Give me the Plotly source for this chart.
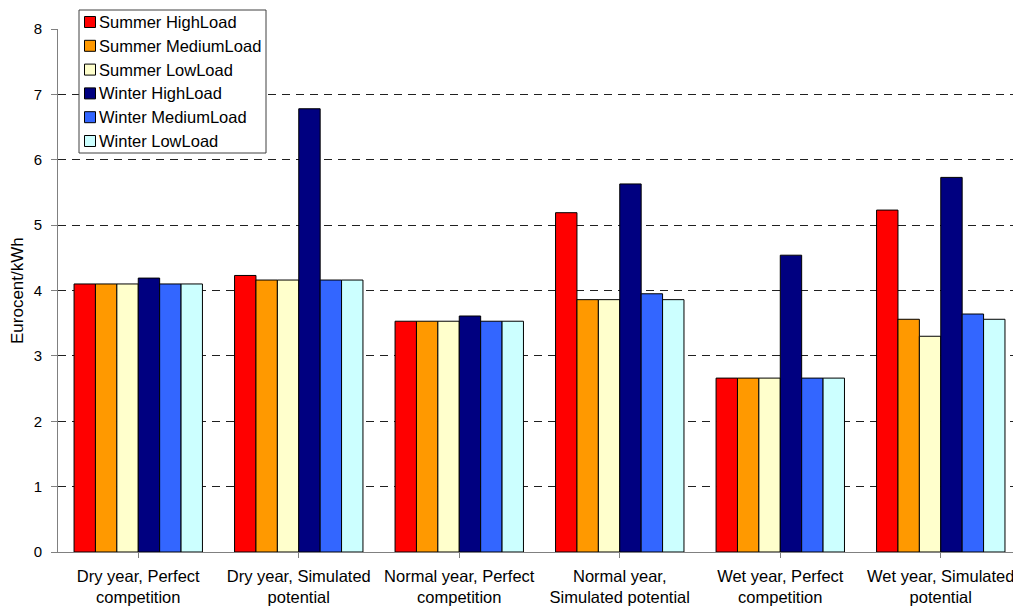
import plotly.graph_objects as go

categories = [
    "Dry year, Perfect<br>competition",
    "Dry year, Simulated<br>potential",
    "Normal year, Perfect<br>competition",
    "Normal year,<br>Simulated potential",
    "Wet year, Perfect<br>competition",
    "Wet year, Simulated<br>potential",
]

summer_high = [4.10, 4.23, 3.53, 5.19, 2.66, 5.23]
summer_medium = [4.10, 4.16, 3.53, 3.86, 2.66, 3.56]
summer_low = [4.10, 4.16, 3.53, 3.86, 2.66, 3.30]
winter_high = [4.19, 6.78, 3.61, 5.63, 4.54, 5.73]
winter_medium = [4.10, 4.16, 3.53, 3.95, 2.66, 3.64]
winter_low = [4.10, 4.16, 3.53, 3.86, 2.66, 3.56]

series_names = ["Summer HighLoad", "Summer MediumLoad", "Summer LowLoad",
                "Winter HighLoad", "Winter MediumLoad", "Winter LowLoad"]
series_values = [summer_high, summer_medium, summer_low,
                 winter_high, winter_medium, winter_low]
series_colors = ["#FF0000", "#FF9900", "#FFFFCC", "#000080", "#3366FF", "#CCFFFF"]

W, H = 1013, 608
ML, MR, MT, MB = 58, 0, 29, 56
PW, PH = W - ML - MR, H - MT - MB
FONT = "Liberation Sans, Arial, sans-serif"


def px_x(p):
    return (p - ML) / PW


def px_y(p):
    return (H - MB - p) / PH


fig = go.Figure()
for name, vals, color in zip(series_names, series_values, series_colors):
    fig.add_trace(go.Bar(
        name=name,
        x=list(range(len(categories))),
        y=vals,
        marker=dict(color=color, line=dict(color="#000000", width=1)),
        showlegend=False,
    ))

# boxed legend in the upper-left corner
shapes = [dict(type="rect", xref="paper", yref="paper",
               x0=px_x(79), x1=px_x(266), y0=px_y(153), y1=px_y(10),
               line=dict(color="#404040", width=1), fillcolor="white", layer="above")]
annotations = []
for i, (name, color) in enumerate(zip(series_names, series_colors)):
    cy = 22 + i * 23.8
    shapes.append(dict(type="rect", xref="paper", yref="paper",
                       x0=px_x(84.5), x1=px_x(95.5), y0=px_y(cy + 5.5), y1=px_y(cy - 5.5),
                       line=dict(color="#000000", width=1), fillcolor=color, layer="above"))
    annotations.append(dict(xref="paper", yref="paper", x=px_x(97), y=px_y(cy),
                            xanchor="left", yanchor="middle", text=name, showarrow=False,
                            font=dict(family=FONT, size=16.5, color="#000000")))

# vertical axis title
annotations.append(dict(xref="paper", yref="paper", x=px_x(17.5), y=px_y(290.5),
                        xanchor="center", yanchor="middle", text="Eurocent/kWh",
                        textangle=-90, showarrow=False,
                        font=dict(family=FONT, size=17, color="#000000")))

fig.update_layout(
    width=W,
    height=H,
    margin=dict(l=ML, r=MR, t=MT, b=MB),
    paper_bgcolor="white",
    plot_bgcolor="white",
    barmode="group",
    bargap=0.2,
    bargroupgap=0,
    font=dict(family=FONT, size=16, color="#000000"),
    showlegend=False,
    shapes=shapes,
    annotations=annotations,
    xaxis=dict(
        tickmode="array",
        tickvals=list(range(len(categories))),
        ticktext=categories,
        range=[-0.5, 5.45],
        showline=True, linecolor="#808080", linewidth=1,
        ticks="outside", ticklen=5, tickcolor="#808080",
        tickson="boundaries",
        ticklabelstandoff=4,
        ticklabeloverflow="allow",
        showgrid=False, zeroline=False,
        tickfont=dict(size=16.5),
    ),
    yaxis=dict(
        range=[0, 8],
        dtick=1,
        showline=True, linecolor="#808080", linewidth=1,
        ticks="outside", ticklen=6, tickcolor="#808080",
        ticklabelstandoff=6,
        showgrid=True, gridcolor="#202020", griddash="8px,6px", gridwidth=1,
        zeroline=False,
        tickfont=dict(size=15),
    ),
)

fig.write_html("out.html")
